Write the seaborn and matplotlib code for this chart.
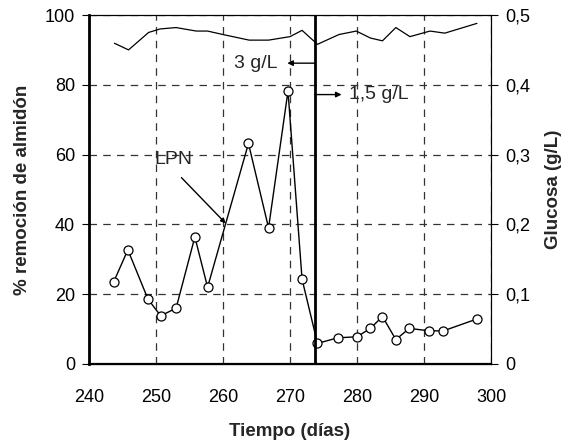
import matplotlib
matplotlib.use("Agg")
import matplotlib.pyplot as plt
import seaborn as sns
import pandas as pd

sns.set_theme(style="white")
plt.rcParams['font.family'] = ['Liberation Sans', 'DejaVu Sans']

# Starch removal (%)
dias_alm = [243.7, 245.8, 248.8, 250.7, 253.0, 255.8, 257.7, 263.8, 266.8, 269.7,
            271.8, 274.1, 277.1, 280.0, 282.0, 283.8, 285.8, 287.8, 290.8, 292.9, 297.9]
remocion = [23.6, 32.7, 18.6, 13.8, 16.0, 36.4, 22.0, 63.2, 39.0, 78.2,
            24.3, 5.9, 7.5, 7.8, 10.2, 13.6, 7.0, 10.2, 9.5, 9.5, 12.9]

# Glucose (g/L)
dias_glu = [243.8, 245.9, 248.9, 250.6, 253.0, 256.0, 257.7, 260.0, 263.9, 266.8, 270.0,
            271.8, 274.1, 277.3, 279.9, 282.0, 283.8, 285.8, 287.9, 290.9, 293.1, 297.9]
glucosa = [0.4595, 0.450, 0.475, 0.480, 0.482, 0.477, 0.477, 0.472, 0.464, 0.464, 0.469,
           0.478, 0.458, 0.472, 0.477, 0.467, 0.463, 0.482, 0.469, 0.477, 0.474, 0.488]

cambio = 273.7

df_a = pd.DataFrame({"dia": dias_alm, "rem": remocion})
df_g = pd.DataFrame({"dia": dias_glu, "glu": glucosa})

fig = plt.figure(figsize=(5.63, 4.45), dpi=100)
ax = fig.add_axes([89/563, 1-364/445, 402/563, 349/445])

sns.lineplot(data=df_a, x="dia", y="rem", ax=ax, color="black", lw=1.0,
             marker="o", markersize=6.5, markerfacecolor="white",
             markeredgecolor="black", markeredgewidth=0.9, zorder=3)

ax.set_xlim(240, 300)
ax.set_ylim(0, 100)
ax.set_xticks(range(240, 301, 10))
ax.set_yticks(range(0, 101, 20))
ax.grid(True, color="#333333", linestyle=(0, (6, 5)), linewidth=0.9)
ax.set_axisbelow(True)

ax2 = ax.twinx()
sns.lineplot(data=df_g, x="dia", y="glu", ax=ax2, color="black", lw=0.9)
ax2.set_ylim(0, 0.5)
ax2.set_yticks([0, 0.1, 0.2, 0.3, 0.4, 0.5])
ax2.set_yticklabels(["0", "0,1", "0,2", "0,3", "0,4", "0,5"])
ax2.set_ylabel("Glucosa (g/L)", fontsize=13.5, fontweight="bold", labelpad=11)
ax2.grid(False)

ax.axvline(cambio, color="black", lw=2.0, zorder=4)

for a in (ax, ax2):
    for s in a.spines.values():
        s.set_color("black")
        s.set_linewidth(0.8)
ax.spines["left"].set_linewidth(2.0)
ax.spines["bottom"].set_linewidth(1.6)

ax.tick_params(axis="both", labelsize=13, colors="black", length=5, width=0.8,
               direction="out", pad=5)
ax.tick_params(axis="x", direction="inout", length=6, pad=15)
ax2.tick_params(axis="y", labelsize=13, colors="black", length=5, width=0.8,
                direction="out", pad=5)

ax.set_xlabel("Tiempo (días)", fontsize=13.5, fontweight="bold", labelpad=12)
ax.set_ylabel("% remoción de almidón", fontsize=13.5, fontweight="bold", labelpad=10)

# Annotations
ax.annotate("", xy=(269.6, 86.2), xytext=(cambio, 86.2),
            arrowprops=dict(arrowstyle="-|>", color="black", lw=1.0,
                            mutation_scale=8, shrinkA=0, shrinkB=0))
ax.text(268.1, 86.2, "3 g/L", fontsize=14, ha="right", va="center")
ax.annotate("", xy=(277.7, 77.2), xytext=(cambio, 77.2),
            arrowprops=dict(arrowstyle="-|>", color="black", lw=1.0,
                            mutation_scale=8, shrinkA=0, shrinkB=0))
ax.text(278.8, 77.2, "1,5 g/L", fontsize=14, ha="left", va="center")

ax.annotate("", xy=(260.4, 40.3), xytext=(253.8, 53.4),
            arrowprops=dict(arrowstyle="-|>", color="black", lw=1.0,
                            mutation_scale=7, shrinkA=0, shrinkB=0))
ax.text(252.6, 58.5, "LPN", fontsize=14, ha="center", va="center")

fig.savefig("out.png", dpi=100)
